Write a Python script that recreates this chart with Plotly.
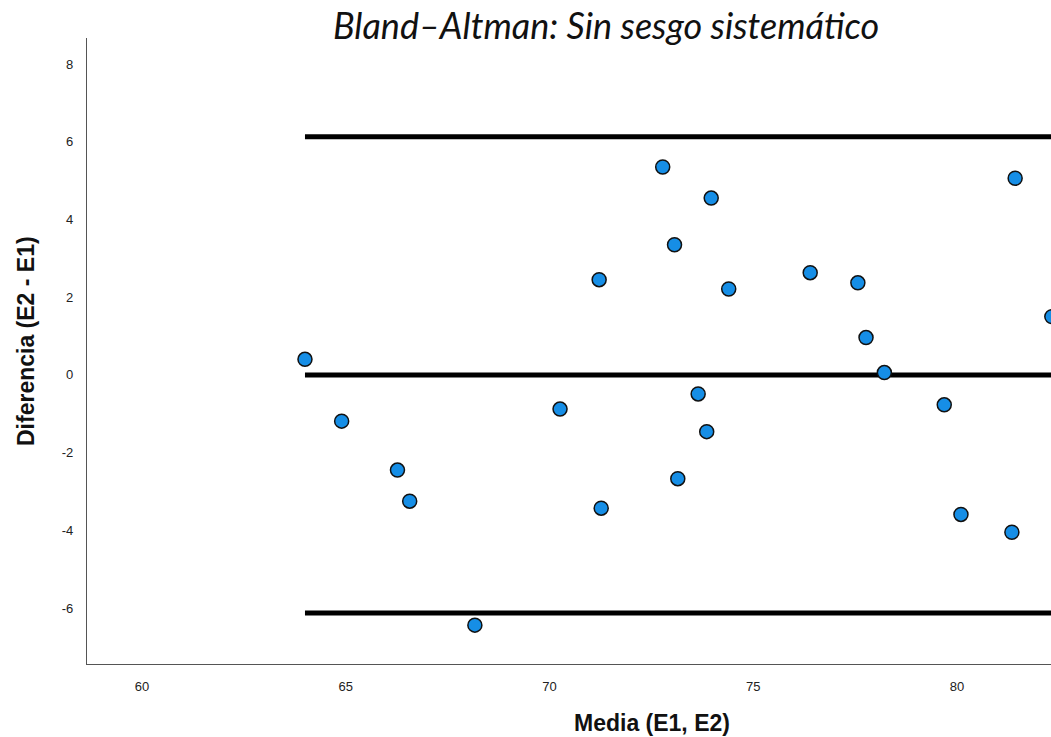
import plotly.graph_objects as go

# Data (mean of E1,E2 vs difference E2-E1)
media = [64.00, 64.90, 66.27, 66.57, 68.17, 70.26, 71.22, 71.27, 72.78, 73.07,
         73.15, 73.65, 73.86, 73.97, 74.40, 76.40, 77.57, 77.77, 78.22, 79.69,
         80.10, 81.35, 81.43, 82.33]
diferencia = [0.40, -1.19, -2.45, -3.25, -6.44, -0.88, 2.45, -3.43, 5.35, 3.35,
              -2.67, -0.49, -1.46, 4.55, 2.21, 2.63, 2.37, 0.96, 0.06, -0.77,
              -3.59, -4.05, 5.06, 1.50]
sesgo = 0.0
loa_sup = 6.13
loa_inf = -6.13
linea_x = [64.00, 86.0]
x_ticks = [60, 65, 70, 75, 80]
y_ticks = [-6, -4, -2, 0, 2, 4, 6, 8]
y_ticktext = ["-6", "-4", "-2", "0", "2", "4", "6", "8"]

fig = go.Figure()
for yv in [loa_sup, sesgo, loa_inf]:
    fig.add_trace(go.Scatter(x=linea_x, y=[yv, yv], mode="lines",
                             line=dict(color="black", width=5),
                             showlegend=False, hoverinfo="skip"))
fig.add_trace(go.Scatter(x=media, y=diferencia, mode="markers",
                         marker=dict(size=14, color="#168EE6",
                                     line=dict(color="#111111", width=1.5)),
                         showlegend=False))

fig.update_layout(
    width=1051, height=737,
    margin=dict(l=87, r=0, t=38, b=73),
    paper_bgcolor="white", plot_bgcolor="white",
    font=dict(family="Liberation Sans, Arial", color="#222222", size=13),
    xaxis=dict(range=[58.65, 82.31], tickvals=x_ticks, showgrid=False,
               zeroline=False, showline=True, linecolor="#555555", linewidth=1.2,
               ticks="", ticklabelstandoff=10,
               tickfont=dict(size=13, color="#222222")),
    yaxis=dict(range=[-7.44, 8.67], tickvals=y_ticks, ticktext=y_ticktext,
               showgrid=False, zeroline=False, showline=True,
               linecolor="#555555", linewidth=1.2,
               ticks="", ticklabelstandoff=10,
               tickfont=dict(size=13, color="#222222")),
    annotations=[
        dict(text="<i>Bland–Altman: Sin sesgo sistemático</i>", xref="paper", yref="paper",
             x=(606 - 87) / 964, y=(737 - 25 - 73) / 626, xanchor="center", yanchor="middle",
             showarrow=False, font=dict(family="Lato", size=36, color="#111111")),
        dict(text="<b>Media (E1, E2)</b>", xref="paper", yref="paper",
             x=(652 - 87) / 964, y=(737 - 723 - 73) / 626, xanchor="center", yanchor="middle",
             showarrow=False, font=dict(family="Liberation Sans, Arial", size=23, color="#111111")),
        dict(text="<b>Diferencia (E2 - E1)</b>", xref="paper", yref="paper",
             x=(26 - 87) / 964, y=(737 - 341 - 73) / 626, xanchor="center", yanchor="middle",
             textangle=-90, showarrow=False,
             font=dict(family="Liberation Sans, Arial", size=23, color="#111111")),
    ],
)

fig.write_html("out.html")
